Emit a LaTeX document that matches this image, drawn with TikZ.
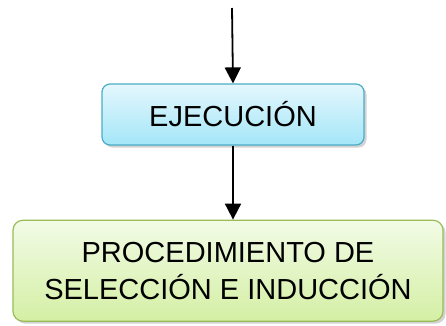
\documentclass[tikz,border=0pt]{standalone}
\usepackage{fontspec}
\setmainfont{Liberation Sans}
\usepackage{tikz}
\usetikzlibrary{arrows.meta, positioning, shadows}
\definecolor{StepBlue}{HTML}{4BACC6}
\definecolor{StepBlueTop}{HTML}{E4F7FD}
\definecolor{StepBlueBot}{HTML}{A4E6F8}
\definecolor{StepGreen}{HTML}{9BBB59}
\definecolor{StepGreenTop}{HTML}{F2FBE6}
\definecolor{StepGreenBot}{HTML}{D4EFA4}
\tikzset{
  stepbox/.style={rectangle, rounded corners=8pt, draw=StepBlue, line width=1.2pt, top color=StepBlueTop, bottom color=StepBlueBot, minimum width=262pt, minimum height=61pt, font=\fontsize{29}{35}\selectfont, align=center, drop shadow={shadow xshift=2.5pt, shadow yshift=-2.5pt, opacity=0.35}},
  procbox/.style={rectangle, rounded corners=10pt, draw=StepGreen, line width=1.2pt, top color=StepGreenTop, bottom color=StepGreenBot, minimum width=430pt, minimum height=101pt, font=\fontsize{29}{37}\selectfont, align=center, drop shadow={shadow xshift=2.5pt, shadow yshift=-2.5pt, opacity=0.35}},
  arrow/.style={-{Triangle[length=16pt, width=16pt]}, line width=1.8pt, black}
}
\begin{document}
\begin{tikzpicture}[x=1pt, y=1pt]
  \useasboundingbox (0,0) rectangle (446,-325);
  \coordinate (start) at (232,-8);
  \node[stepbox] (exe) at (233,-114.5) {EJECUCIÓN};
  \node[procbox, below=74pt of exe, xshift=-5pt] (proc) {PROCEDIMIENTO DE\\SELECCIÓN E INDUCCIÓN};

  \draw[arrow] (start) -- (exe.north);
  \draw[arrow] (exe.south) -- (exe.south |- proc.north);
\end{tikzpicture}
\end{document}
